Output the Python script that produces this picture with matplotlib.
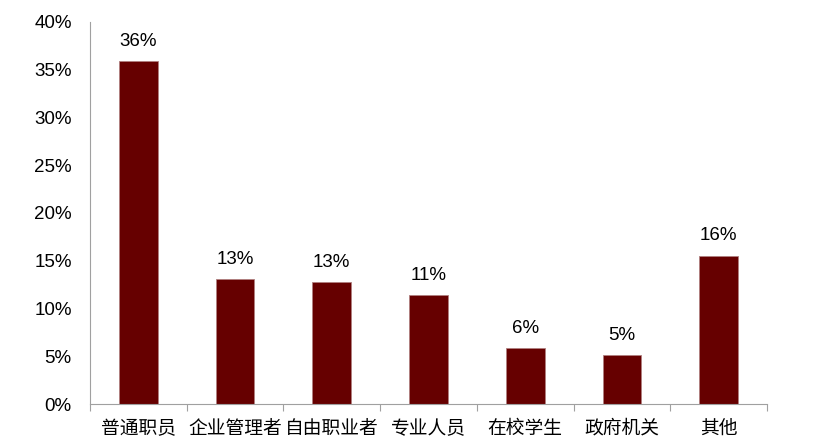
import matplotlib
matplotlib.use("Agg")
import matplotlib.pyplot as plt
from matplotlib.ticker import FuncFormatter

plt.rcParams['font.family'] = ['Liberation Sans', 'Noto Sans CJK SC', 'DejaVu Sans']

categories = ["普通职员", "企业管理者", "自由职业者", "专业人员", "在校学生", "政府机关", "其他"]
values = [35.9, 13.05, 12.75, 11.4, 5.85, 5.1, 15.55]
labels = ["36%", "13%", "13%", "11%", "6%", "5%", "16%"]

fig = plt.figure(figsize=(8.32, 4.47), dpi=100)
ax = fig.add_axes([0.108, 0.096, 0.814, 0.855])

x = list(range(len(categories)))
ax.bar(x, values, width=0.4, color="#660000", edgecolor="#b08080", linewidth=0.6)

for xi, v, lab in zip(x, values, labels):
    ax.text(xi, v + 1.2, lab, ha="center", va="bottom", fontsize=13.5)

ax.set_xlim(-0.5, len(categories) - 0.5)
ax.set_ylim(0, 40)
ax.set_yticks(range(0, 41, 5))
ax.yaxis.set_major_formatter(FuncFormatter(lambda v, p: f"{int(v)}%"))
# category boundaries get the tick marks, labels sit between them
ax.set_xticks([i - 0.5 for i in range(len(categories) + 1)], minor=False)
ax.set_xticklabels([])
ax.set_xticks(x, minor=True)
ax.set_xticklabels(categories, minor=True, fontsize=13.5,
                   family=['Noto Sans CJK SC', 'DejaVu Sans'])
ax.tick_params(axis="x", which="minor", length=0, pad=10)
ax.tick_params(axis="x", which="major", length=5, color="#a0a0a0", direction="out")
ax.tick_params(axis="y", length=0, labelsize=13.5, pad=13)

for side in ["top", "right"]:
    ax.spines[side].set_visible(False)
for side in ["left", "bottom"]:
    ax.spines[side].set_color("#a0a0a0")

fig.savefig("out.png", dpi=100)
